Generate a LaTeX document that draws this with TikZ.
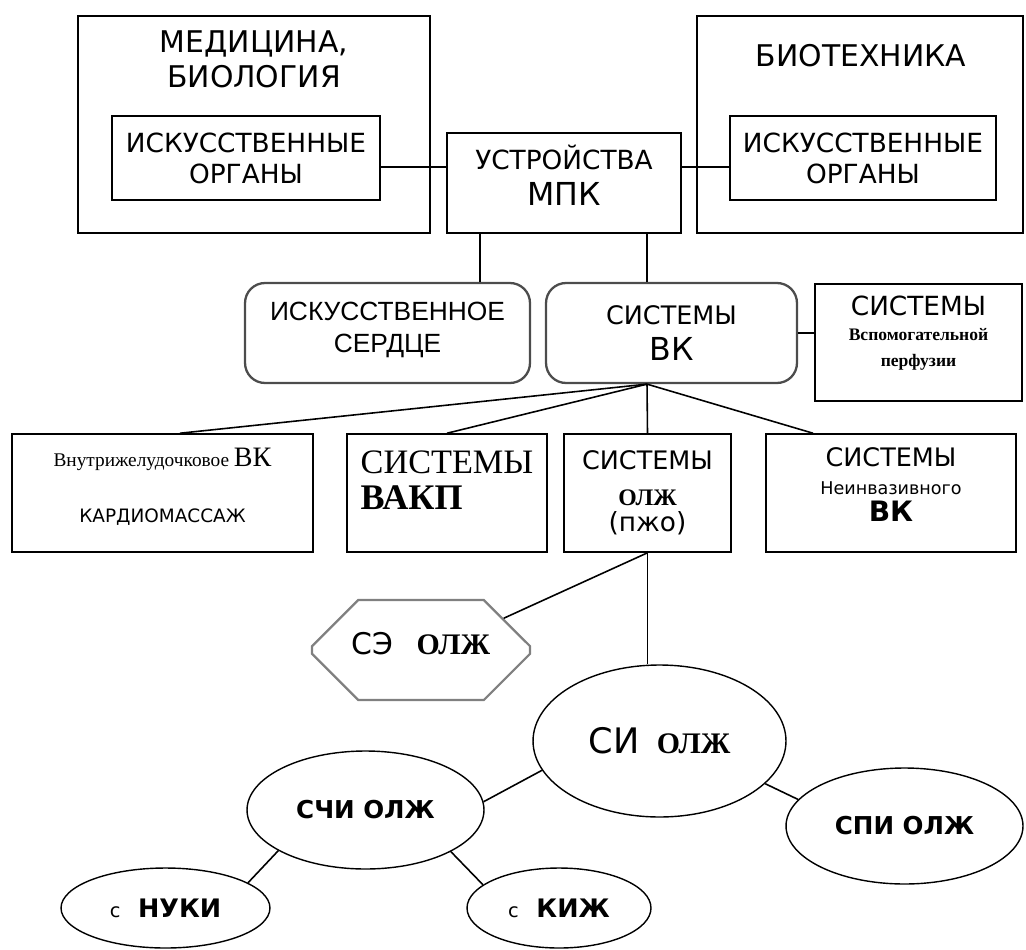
\documentclass[tikz,border=0pt]{standalone}
\usepackage{fontspec}
\setmainfont{DejaVu Sans}
\newfontfamily\arialfont{Liberation Sans}
\newfontfamily\timesfont{Liberation Serif}
\usetikzlibrary{shapes.geometric,shapes.misc}
\newcommand\sz[2]{\fontsize{#1}{#2}\selectfont}
\newcommand\lift[1]{\\[#1]\mbox{}}

\begin{document}
\begin{tikzpicture}[x=0.02cm,y=-0.02cm,
    box/.style={draw,line width=0.9pt,inner sep=0pt,align=center},
    roundbox/.style={draw=black!70,line width=1.3pt,rounded corners=0.4cm,inner sep=0pt,align=center},
    octbox/.style={chamfered rectangle,draw=black!50,line width=1.3pt,
        chamfered rectangle xsep=0.4cm,chamfered rectangle ysep=0.56cm,inner sep=0pt,align=center},
    oval/.style={ellipse,draw,line width=0.8pt,inner sep=0pt,align=center},
    link/.style={line width=0.9pt}]
    \useasboundingbox (0,0) rectangle (1026,949);

    % top level
    \node[box,minimum width=7.04cm,minimum height=4.34cm] (med) at (254,124.5) {};
    \node[align=center,font=\sz{17}{20}] (medtitle) at (254,59.5) {МЕДИЦИНА,\\БИОЛОГИЯ};
    \node[box,minimum width=6.52cm,minimum height=4.34cm] (bio) at (860,124.5) {};
    \node[font=\sz{17}{20}] (biotitle) at (861,56) {БИОТЕХНИКА};
    \node[box,minimum width=5.36cm,minimum height=1.68cm,font=\sz{15}{17.6}] (orgL) at (246,158) {ИСКУССТВЕННЫЕ\\ОРГАНЫ};
    \node[box,minimum width=5.32cm,minimum height=1.68cm,font=\sz{15}{17.6}] (orgR) at (863,158) {ИСКУССТВЕННЫЕ\\ОРГАНЫ};
    \node[box,minimum width=4.68cm,minimum height=2.0cm,font=\sz{15}{20.5}] (mpk) at (564,183)
        {УСТРОЙСТВА\\{\sz{18}{20}МПК}\lift{-11.4pt}};

    % second level
    \node[roundbox,minimum width=5.7cm,minimum height=2.0cm,font=\arialfont\sz{15}{18}] (heart) at (387.5,333)
        {ИСКУССТВЕННОЕ\\СЕРДЦЕ\lift{-11.2pt}};
    \node[roundbox,minimum width=5.02cm,minimum height=2.0cm,font=\sz{14.5}{20.5}] (vk) at (671.5,333)
        {СИСТЕМЫ\\{\sz{18}{20}ВК}};
    \node[box,minimum width=4.14cm,minimum height=2.34cm,font=\sz{15}{14.5}] (perf) at (918.5,342.5)
        {СИСТЕМЫ\\{\timesfont\bfseries\sz{10}{14}Вспомогательной}\\{\timesfont\bfseries\sz{10}{14}перфузии}\lift{-1.2pt}};

    % third level
    \node[box,minimum width=6.02cm,minimum height=2.36cm,font=\sz{10.5}{32}] (ivk) at (162.5,493)
        {{\timesfont\sz{11}{13}Внутрижелудочковое \sz{16}{17}ВК}\\КАРДИОМАССАЖ\lift{-23pt}};
    \node[box,minimum width=4.0cm,minimum height=2.36cm,align=left,font=\timesfont\sz{19.5}{20}] (vakp) at (447,493)
        {СИСТЕМЫ\\{\bfseries\sz{20.5}{20}ВАКП}\lift{-5.3pt}};
    \node[box,minimum width=3.34cm,minimum height=2.36cm,font=\sz{14.5}{20}] (olzh) at (647.5,493)
        {СИСТЕМЫ\\{\timesfont\bfseries\sz{13.5}{20}ОЛЖ}\\[-5pt]{\sz{15}{15}(пжо)}};
    \node[box,minimum width=5.0cm,minimum height=2.36cm,font=\sz{14.5}{15.5}] (niv) at (891,493)
        {СИСТЕМЫ\\{\sz{10}{16}Неинвазивного}\\{\bfseries\sz{16}{15}ВК}\lift{-6pt}};

    % lower part
    \node[octbox,minimum width=4.36cm,minimum height=2.0cm,font=\sz{17}{17}] (se) at (421,650)
        {СЭ\hspace{13pt}{\timesfont\bfseries ОЛЖ}\lift{-9pt}};
    \node[oval,minimum width=5.06cm,minimum height=3.04cm] (si) at (659.5,741)
        {{\sz{20}{20}СИ}\hspace{10pt}{\timesfont\bfseries\sz{17}{20}ОЛЖ}};
    \node[oval,minimum width=4.74cm,minimum height=2.36cm,font=\bfseries\sz{14}{16}] (schi) at (365.5,810) {СЧИ ОЛЖ};
    \node[oval,minimum width=4.74cm,minimum height=2.32cm,font=\bfseries\sz{14}{16}] (spi) at (904.5,826) {СПИ ОЛЖ};
    \node[oval,minimum width=4.18cm,minimum height=1.6cm] (nuki) at (165.5,908)
        {{\sz{11}{16}с}\hspace{10pt}{\bfseries\sz{14.5}{16}НУКИ}};
    \node[oval,minimum width=3.68cm,minimum height=1.6cm] (kizh) at (559,908)
        {{\sz{11}{16}с}\hspace{10pt}{\bfseries\sz{14.5}{16}КИЖ}};

    % connection points
    \coordinate (orgLc) at ([yshift=-0.18cm]orgL.east);
    \coordinate (orgRc) at ([yshift=-0.18cm]orgR.west);
    \coordinate (heartin) at ([xshift=1.85cm]heart.north);
    \coordinate (vkin) at ([xshift=-0.49cm]vk.north);
    \coordinate (vkhub) at ([xshift=-0.49cm]vk.south);

    % connectors
    \draw[link] (orgLc) -- (orgLc -| mpk.west);
    \draw[link] (orgRc) -- (orgRc -| mpk.east);
    \draw[link] (heartin) -- (heartin |- mpk.south);
    \draw[link] (vkin) -- (vkin |- mpk.south);
    \draw[link] (vk.east) -- (vk.east -| perf.west);
    \draw[link] (vkhub) -- ([xshift=0.35cm]ivk.north);
    \draw[link] (vkhub) -- (vakp.north);
    \draw[link] (vkhub) -- (olzh.north);
    \draw[link] (vkhub) -- ([xshift=-1.56cm]niv.north);
    \draw[link] (olzh.south) -- (se.21);
    \draw[link] (olzh.south) -- (olzh.south |- si.north);
    \draw[link] (si.194) -- (schi.4);
    \draw[link] (si.-22) -- (spi.166);
    \draw[link] (schi.205) -- (nuki.17);
    \draw[link] (schi.-26) -- (kizh.163);
\end{tikzpicture}
\end{document}
